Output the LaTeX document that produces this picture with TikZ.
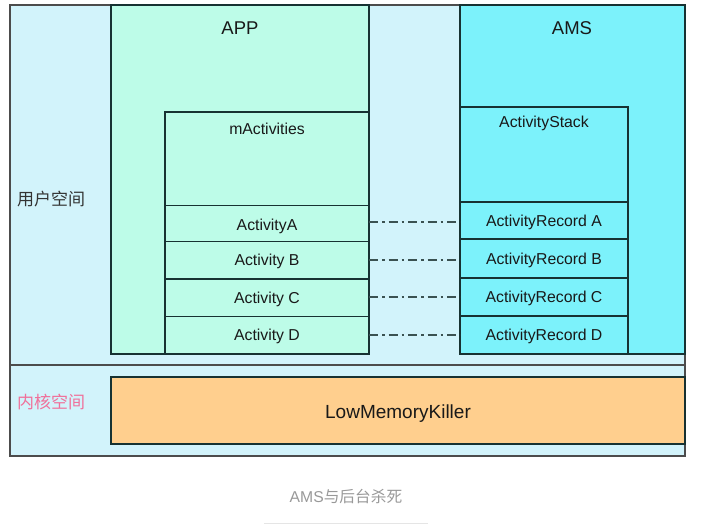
\documentclass[tikz,border=0pt]{standalone}
\usepackage{fontspec}
\setmainfont{Liberation Sans}
\newfontfamily\cjk{Noto Sans CJK SC}
\definecolor{outerbg}{HTML}{D2F3FB}
\definecolor{appbg}{HTML}{BDFCE8}
\definecolor{amsbg}{HTML}{7CF2FB}
\definecolor{lmkbg}{HTML}{FFCF8E}
\definecolor{edge}{HTML}{173232}
\definecolor{pinklbl}{HTML}{F0709A}
\definecolor{capgray}{HTML}{999999}
\begin{document}
\begin{tikzpicture}[x=1pt,y=-1pt,
  box/.style={draw=edge,line width=1.2pt,inner sep=0pt,outer sep=0pt,anchor=north west},
  rowtxt/.style={font=\fontsize{15.8}{17}\selectfont,text=black!90},
  bigtxt/.style={font=\fontsize{18.5}{20}\selectfont,text=black!90},
  link/.style={draw=edge!85,line width=1.3pt,dash pattern=on 9pt off 4pt on 2.5pt off 4pt}]
\useasboundingbox (0,0) rectangle (701,530);
% outer frame
\node[box,fill=outerbg,draw=black!70,minimum width=675pt,minimum height=451pt] (outer) at (10,5) {};
\draw[draw=black!70,line width=1.2pt] (outer.west |- 0,365) coordinate (sepl) -- (outer.east |- 0,365) coordinate (sepr);
% APP
\node[box,fill=appbg,minimum width=258pt,minimum height=349pt] (app) at (111,5) {};
\node[bigtxt] (apptxt) at (240,28) {APP};
% AMS
\node[box,fill=amsbg,minimum width=225pt,minimum height=349pt] (ams) at (460,5) {};
\node[bigtxt] (amstxt) at (572,28) {AMS};
% mActivities
\node[box,fill=appbg,minimum width=204pt,minimum height=93.5pt] (mact) at (165,112) {};
\node[rowtxt] (macttxt) at (267,129) {mActivities};
\node[box,fill=appbg,minimum width=204pt,minimum height=36pt] (ma) at (165,205.5) {};
\node[box,fill=appbg,minimum width=204pt,minimum height=37.5pt] (mb) at (165,241.5) {};
\node[box,fill=appbg,minimum width=204pt,minimum height=37.5pt] (mc) at (165,279) {};
\node[box,fill=appbg,minimum width=204pt,minimum height=37.5pt] (md) at (165,316.5) {};
\node[rowtxt,yshift=-2.5pt] (mat) at (ma.center) {ActivityA};
\node[rowtxt,yshift=-1.5pt] (mbt) at (mb.center) {Activity B};
\node[rowtxt,yshift=-1.5pt] (mct) at (mc.center) {Activity C};
\node[rowtxt,yshift=-1.5pt] (mdt) at (md.center) {Activity D};
% ActivityStack
\node[box,fill=amsbg,minimum width=168pt,minimum height=95pt] (stack) at (460,107) {};
\node[rowtxt] (stacktxt) at (544,123) {ActivityStack};
\node[box,fill=amsbg,minimum width=168pt,minimum height=37pt] (ra) at (460,202) {};
\node[box,fill=amsbg,minimum width=168pt,minimum height=39pt] (rb) at (460,239) {};
\node[box,fill=amsbg,minimum width=168pt,minimum height=38pt] (rc) at (460,278) {};
\node[box,fill=amsbg,minimum width=168pt,minimum height=38pt] (rd) at (460,316) {};
\node[rowtxt,yshift=-2pt] (rat) at (ra.center) {ActivityRecord A};
\node[rowtxt,yshift=-2pt] (rbt) at (rb.center) {ActivityRecord B};
\node[rowtxt,yshift=-1.5pt] (rct) at (rc.center) {ActivityRecord C};
\node[rowtxt,yshift=-1.5pt] (rdt) at (rd.center) {ActivityRecord D};
% links
\draw[link] (ma.east |- 0,222) coordinate (la) -- (la -| ra.west);
\draw[link] (mb.east |- 0,260) coordinate (lb) -- (lb -| rb.west);
\draw[link] (mc.east |- 0,297) coordinate (lc) -- (lc -| rc.west);
\draw[link] (md.east |- 0,335) coordinate (ld) -- (ld -| rd.west);
% LowMemoryKiller
\node[box,fill=lmkbg,minimum width=574pt,minimum height=67pt] (lmk) at (111,377) {};
\node[bigtxt,font=\fontsize{19}{21}\selectfont,yshift=-3pt] (lmktxt) at (lmk.center) {LowMemoryKiller};
% side labels
\node[font=\cjk\fontsize{17}{19}\selectfont,text=black!80,anchor=west,inner sep=0pt] (user) at (17,199) {用户空间};
\node[font=\cjk\fontsize{17}{19}\selectfont,text=pinklbl,anchor=west,inner sep=0pt] (kernel) at (17,402) {内核空间};
% caption
\node[font=\fontsize{15.7}{17}\selectfont,text=capgray] (cap) at (346,497) {AMS{\cjk 与后台杀死}};
\draw[black!10,line width=0.8pt] (264,523) coordinate (ul) -- (428,523) coordinate (ur);
\end{tikzpicture}
\end{document}
